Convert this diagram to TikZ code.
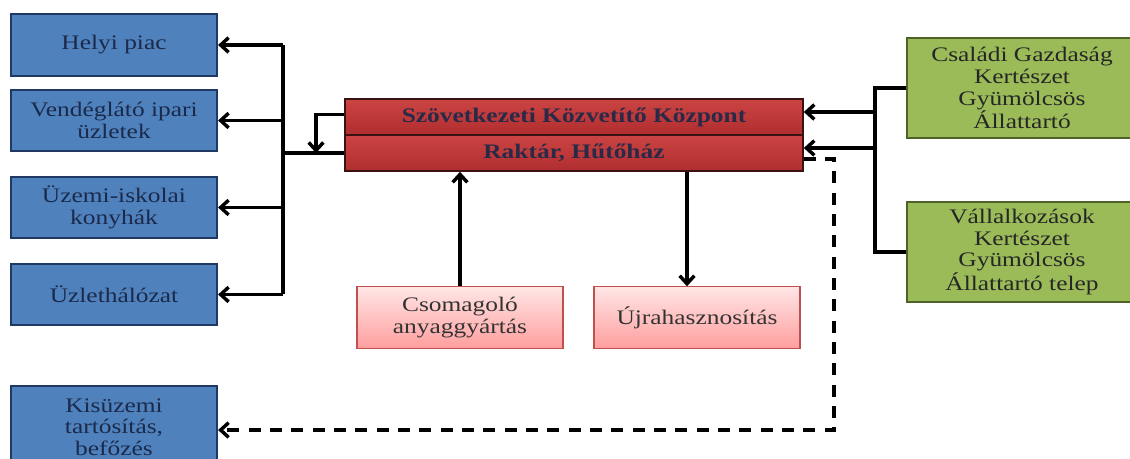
\documentclass[tikz,border=0pt]{standalone}
\usepackage{fontspec}
\setmainfont{Liberation Serif}[FakeStretch=1.23]
\usepackage{xcolor}
\usetikzlibrary{arrows.meta}

\definecolor{outfill}{HTML}{4F81BD}
\definecolor{outdraw}{HTML}{1F3864}
\definecolor{outtext}{HTML}{1B2A4A}
\definecolor{hubtop}{HTML}{CC4444}
\definecolor{hubbot}{HTML}{B02E2E}
\definecolor{hubdraw}{HTML}{3A1212}
\definecolor{hubtext}{HTML}{2A2A48}
\definecolor{srcfill}{HTML}{9BBB59}
\definecolor{srcdraw}{HTML}{4F6228}
\definecolor{sidetop}{HTML}{FFE6E6}
\definecolor{sidebot}{HTML}{FF9E9E}
\definecolor{sidedraw}{HTML}{C0504D}

\begin{document}
\begin{tikzpicture}[x=0.75pt,y=-0.75pt,>={Straight Barb[length=6pt,width=11pt]},
    font=\fontsize{15.5}{16.3}\selectfont,
    outbox/.style={draw=outdraw,line width=1.6pt,fill=outfill,text=outtext,
        minimum width=154.5pt,minimum height=46pt,align=center,inner sep=1pt},
    hubbox/.style={draw=hubdraw,line width=1.2pt,top color=hubtop,bottom color=hubbot,
        text=hubtext,font=\fontsize{15.5}{16.3}\selectfont\bfseries,
        minimum width=343.5pt,minimum height=27pt,inner sep=1pt},
    srcbox/.style={draw=srcdraw,line width=1.6pt,fill=srcfill,text=black!85,
        minimum width=172.5pt,minimum height=75pt,align=center,inner sep=1pt},
    sidebox/.style={draw=sidedraw,line width=0.8pt,top color=sidetop,bottom color=sidebot,
        text=black!80,minimum width=154.5pt,minimum height=46pt,align=center,inner sep=1pt},
    link/.style={line width=2.6pt,black}]

        \useasboundingbox (0,0) rectangle (1130,459);

        % draw the outlets on the left
        \node[outbox] (piac)  at (114,45)    {Helyi piac};
        \node[outbox] (vend)  at (114,120.5) {Vendéglátó ipari\\üzletek};
        \node[outbox] (konyha) at (114,207.5) {Üzemi-iskolai\\konyhák};
        \node[outbox] (uzlet) at (114,294.5) {Üzlethálózat};
        \node[outbox,minimum height=61.5pt] (kis) at (114,427) {Kisüzemi\\tartósítás,\\befőzés};

        % draw the centre
        \node[hubbox] (szov) at (574,117) {Szövetkezeti Közvetítő Központ};
        \node[hubbox] (rakt) at (574,153) {Raktár, Hűtőház};

        % draw the side units below the centre
        \node[sidebox] (csom) at (460,317.5) {Csomagoló\\anyaggyártás};
        \node[sidebox] (ujra) at (697,317.5) {Újrahasznosítás};

        % draw the producers on the right
        \node[srcbox] (csal) at (1022,88)  {Családi Gazdaság\\Kertészet\\Gyümölcsös\\Állattartó};
        \node[srcbox] (vall) at (1022,252) {Vállalkozások\\Kertészet\\Gyümölcsös\\Állattartó telep};

        % bus lines and corners
        \coordinate (lbus) at (283,0);
        \coordinate (rbus) at (875,0);
        \coordinate (drop) at (316,0);
        \coordinate (dcorner) at (834,430);

        % left bus with the outlets
        \draw[link] (lbus |- piac.east) -- (lbus |- uzlet.east);
        \foreach \n in {piac,vend,konyha,uzlet}
                \draw[link,->] (lbus |- \n.east) -- (\n.east);
        \draw[link] (lbus |- rakt.west) -- (rakt.west);
        \draw[link,->] ([yshift=2pt]szov.west) -| (drop |- rakt.west);

        % right bus with the producers
        \draw[link] (csal.west) -- (rbus |- csal.west) -- (rbus |- vall.west) -- (vall.west);
        \draw[link,->] ([yshift=3.75pt]szov.east -| rbus) -- ([yshift=3.75pt]szov.east);
        \draw[link,->] ([yshift=3.75pt]rakt.east -| rbus) -- ([yshift=3.75pt]rakt.east);

        % links to the side units
        \draw[link,->] (csom.north) -- (csom.north |- rakt.south);
        \draw[link,->] ([xshift=-7.5pt]ujra.north |- rakt.south) -- ([xshift=-7.5pt]ujra.north);

        % the dashed way to the small plants
        \draw[link,dash pattern=on 9pt off 7pt,->] ([yshift=-4.5pt]rakt.east) -| (dcorner) -- (dcorner -| kis.east);
\end{tikzpicture}
\end{document}
